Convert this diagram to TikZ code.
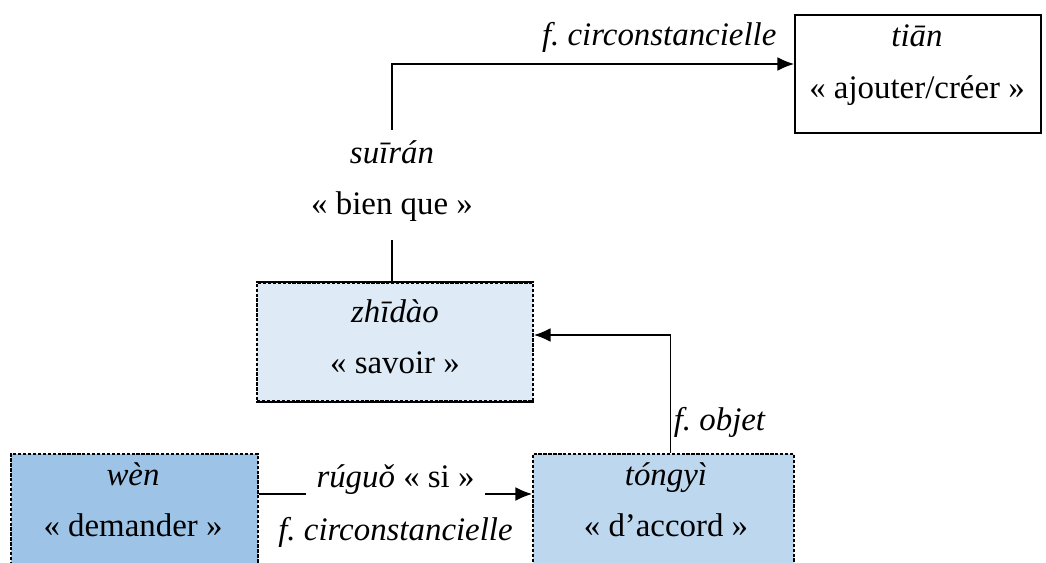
\documentclass[tikz,border=0pt]{standalone}
\usepackage{fontspec}
\setmainfont{Liberation Serif}
\usetikzlibrary{positioning, arrows.meta}
\frenchspacing

\definecolor{bleufonce}{HTML}{9DC3E6}
\definecolor{bleumoyen}{HTML}{BDD7EE}
\definecolor{bleuclair}{HTML}{DEEAF6}
\newcommand{\pix}{0.365pt}

\begin{document}
\begin{tikzpicture}[x=0.365pt, y=-0.365pt, font=\fontsize{12}{14}\selectfont]
			\tikzset{boite/.style={rectangle, inner sep=0pt, draw=black, thick},
			pointille/.style={dash pattern=on 1.2pt off 0.6pt},
			texte/.style={anchor=base, inner sep=0pt},
			fleche/.style={thin, -{Latex[length=6pt, width=5pt]}}};

			\useasboundingbox (0,0) rectangle (1046,563);
			\clip (0,0) rectangle (1046,563);

			% les cadres
			\node[boite, minimum width=246*\pix, minimum height=118*\pix] (tian) at (918,74) {};
			\node[boite, pointille, fill=bleuclair, minimum width=276*\pix, minimum height=118*\pix] (zhidao) at (395,342) {};
			\node[boite, pointille, fill=bleufonce, minimum width=247*\pix, minimum height=118*\pix] (wen) at (134.5,513) {};
			\node[boite, pointille, fill=bleumoyen, minimum width=261*\pix, minimum height=118*\pix] (tongyi) at (663.5,513) {};
			\draw[line width=1pt] (zhidao.north west) -- (zhidao.north east) (zhidao.south west) -- (zhidao.south east);

			\foreach \nom/\x/\y/\pinyin/\sens in {tian/917/47/tiān/{ajouter/créer}, zhidao/395/322/zhīdào/savoir,
				wen/133/485/wèn/demander, tongyi/666/485/tóngyì/d’accord}{
				\node[texte] (p-\nom) at (\x,\y) {\textit{\pinyin}};
				\node[texte] (s-\nom) at ([yshift=-51*\pix]p-\nom.base) {« \sens{} »};
			}

			\node[texte, outer ysep=3.8pt] (p-suiran) at (392,163) {\textit{suīrán}};
			\node[texte, outer ysep=6.9pt] (s-suiran) at ([yshift=-51*\pix]p-suiran.base) {« bien que »};

			\draw[fleche] (p-suiran.north) |- ([yshift=10*\pix]tian.west)
				node[pos=1, above left, inner xsep=6.2pt, inner ysep=4pt] {\textit{f. circonstancielle}};
			\draw (s-suiran.south) -- (s-suiran.south |- zhidao.north);
			\draw[fleche] ([xshift=7*\pix]tongyi.north) |- ([yshift=7*\pix]zhidao.east)
				node[pos=0.13, right, inner sep=1pt] {\textit{f. objet}};
			\draw[fleche] ([yshift=19*\pix]wen.east) -- ([yshift=19*\pix]tongyi.west)
				node[midway, fill=white, anchor=base, yshift=7*\pix, inner xsep=4pt, inner ysep=2pt] {\textit{rúguǒ} « si »}
				node[midway, below=8.4pt, inner sep=0pt] {\textit{f. circonstancielle}};

		\end{tikzpicture}
\end{document}
